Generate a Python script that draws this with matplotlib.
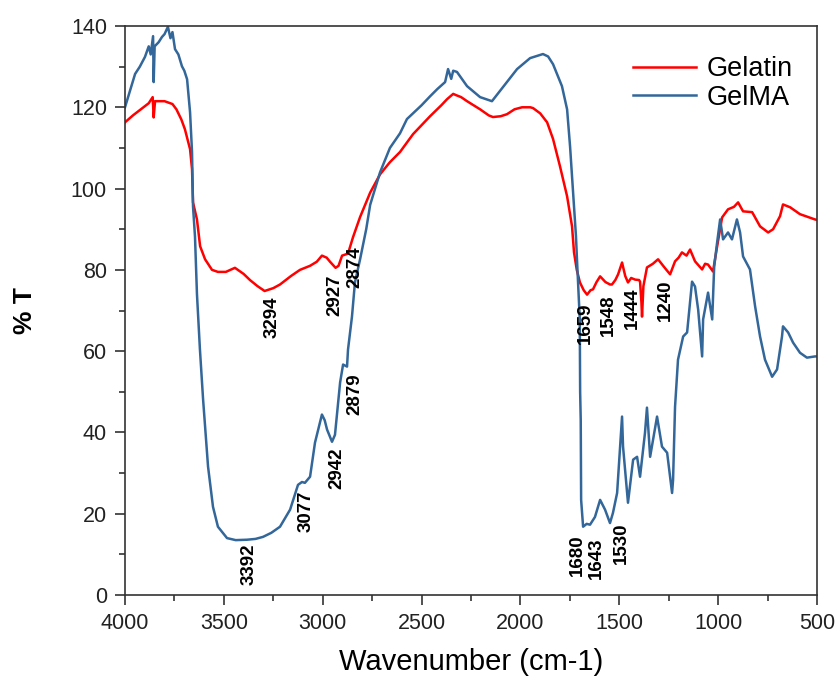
import matplotlib
matplotlib.use("Agg")
import matplotlib.pyplot as plt
from matplotlib.ticker import MultipleLocator

plt.rcParams['font.family'] = ['Liberation Sans', 'DejaVu Sans']

# Gelatin spectrum (wavenumber, %T)
gel_w = [4000, 3960, 3920, 3880, 3860, 3855, 3848, 3800, 3760, 3740, 3715, 3697,
         3671, 3661, 3656, 3636, 3620, 3595, 3560, 3530, 3490, 3444, 3400, 3368,
         3330, 3294, 3250, 3216, 3160, 3115, 3064, 3030, 3004, 2980, 2963, 2935,
         2920, 2902, 2872, 2847, 2811, 2760, 2710, 2660, 2609, 2543, 2457, 2400,
         2371, 2340, 2326, 2300, 2270, 2204, 2160, 2139, 2100, 2068, 2030, 1992,
         1950, 1936, 1900, 1865, 1835, 1800, 1764, 1739, 1729, 1715, 1699, 1680,
         1663, 1645, 1633, 1615, 1597, 1570, 1547, 1537, 1520, 1506, 1486, 1470,
         1456, 1440, 1420, 1400, 1395, 1388, 1385, 1378, 1360, 1330, 1304, 1270,
         1243, 1218, 1200, 1183, 1160, 1142, 1117, 1081, 1066, 1051, 1026, 1005,
         980, 950, 920, 899, 874, 828, 788, 747, 722, 687, 672, 636, 586, 510, 500]
gel_t = [116.3, 118, 119.5, 121, 122.5, 117.5, 121.5, 121.5, 120.8, 119.5, 117, 114.6,
         109.7, 104.8, 96.6, 92.4, 85.8, 82.6, 80, 79.5, 79.5, 80.5, 79, 77.5,
         76, 74.8, 75.5, 76.4, 78.5, 80, 81, 82, 83.5, 83, 82, 80.5,
         81, 83.5, 84, 88, 93, 99, 103.5, 106.5, 109, 113.4, 117.8, 120.5,
         122, 123.3, 123, 122.5, 121.5, 119.5, 118, 117.6, 117.8, 118.3, 119.5, 120,
         120, 119.8, 118.5, 116.3, 112.2, 105.5, 98.1, 90.7, 84.3, 80, 76.9, 75,
         73.9, 75, 75.2, 77, 78.4, 77, 76.4, 76.4, 77.5, 78.9, 81.8, 78.5,
         76.9, 78, 77.6, 77.5, 77.1, 72, 68.5, 76, 80.6, 81.5, 82.6, 80.5,
         78.9, 82.1, 83, 84.3, 83.5, 85, 82.1, 80.1, 81.5, 81.3, 79.6, 85.8,
         92.9, 94.9, 95.5, 96.6, 94.4, 94.2, 90.7, 89.2, 90, 93.2, 96.1, 95.4, 93.7, 92.4, 92.3]

# GelMA spectrum
gma_w = [4000, 3975, 3949, 3925, 3899, 3880, 3870, 3858, 3855, 3850, 3830, 3813,
         3800, 3783, 3770, 3760, 3747, 3730, 3712, 3700, 3686, 3671, 3661, 3656,
         3646, 3636, 3621, 3605, 3580, 3555, 3530, 3484, 3440, 3383, 3340, 3302,
         3260, 3216, 3165, 3125, 3105, 3090, 3064, 3039, 3004, 2990, 2978, 2953,
         2938, 2912, 2897, 2877, 2872, 2852, 2837, 2811, 2780, 2760, 2710, 2660,
         2609, 2574, 2500, 2457, 2420, 2381, 2366, 2350, 2340, 2321, 2270, 2204,
         2144, 2088, 2017, 1951, 1886, 1860, 1835, 1790, 1764, 1749, 1734, 1719,
         1714, 1700, 1698, 1695, 1693, 1683, 1665, 1648, 1623, 1597, 1572, 1547,
         1532, 1511, 1496, 1486, 1481, 1456, 1430, 1410, 1395, 1370, 1360, 1344,
         1309, 1284, 1258, 1233, 1228, 1218, 1203, 1177, 1157, 1132, 1117, 1101,
         1081, 1076, 1051, 1030, 1020, 1005, 990, 975, 950, 930, 905, 889,
         874, 839, 813, 788, 763, 727, 702, 677, 672, 646, 621, 586, 551, 510, 500]
gma_t = [120, 124, 128.2, 130, 132.4, 135, 133, 137.5, 126.2, 135, 136, 137.3,
         138, 139.8, 137, 138.5, 134.3, 133, 130.1, 129, 126.9, 118.8, 109, 95.6,
         88.2, 74, 60.4, 48.1, 31.6, 21.7, 16.8, 14, 13.5, 13.6, 13.8, 14.3,
         15.3, 16.8, 21, 27.1, 27.8, 27.6, 29.1, 37.5, 44.4, 43, 40.7, 37.7,
         39.4, 52.3, 56.7, 56.2, 60.4, 68.5, 76.9, 82.6, 90, 96, 104, 110,
         113.6, 117.1, 120.5, 122.7, 124.5, 126.2, 129.4, 127, 129, 128.7, 125.2, 122.5,
         121.5, 125, 129.4, 132.1, 133.1, 132.5, 130.6, 125.2, 119.5, 110.4, 99.1, 88.2,
         82.6, 68, 50, 43, 23.4, 16.8, 17.5, 17.3, 19.2, 23.4, 21, 17.7,
         20.2, 25.1, 36.5, 43.9, 36.5, 22.7, 33.3, 34, 29.1, 39.9, 46.1, 34,
         43.9, 36.5, 35, 25.1, 28.3, 46.3, 57.9, 63.6, 64.6, 77.1, 75.9, 70.2,
         58.7, 67.8, 74.4, 67.8, 80.8, 86.8, 92.4, 87.5, 89.2, 87.5, 92.4, 89.2,
         83.3, 80.1, 71, 63.6, 57.9, 53.7, 55.5, 63.6, 66.1, 64.6, 62.1, 59.6, 58.4, 58.7, 58.7]

# peak labels: text, wavenumber position, top of text (%T)
peak_labels = ['3294', '2927', '2874', '3392', '3077', '2942', '2879',
               '1659', '1548', '1444', '1240', '1680', '1643', '1530']
peak_x = [3256, 2938, 2837, 3373, 3085, 2928, 2837,
          1669, 1553, 1436, 1269, 1711, 1618, 1491]
peak_top = [73.4, 78.9, 85.8, 12.6, 25.6, 36.2, 54.5,
            71.9, 73.9, 75.6, 77.6, 15.0, 14.1, 17.9]

fig = plt.figure(figsize=(8.37, 6.82), dpi=100)
ax = fig.add_axes([125 / 837, 1 - 595 / 682, 692 / 837, 569 / 682])

ax.plot(gel_w, gel_t, color='#ff0000', lw=1.8, label='Gelatin')
ax.plot(gma_w, gma_t, color='#336699', lw=1.8, label='GelMA')

for lab, xw, yt in zip(peak_labels, peak_x, peak_top):
    ax.text(xw, yt, lab, rotation=90, ha='center', va='top',
            fontsize=13.5, fontweight='bold', color='black')

ax.set_xlim(4000, 500)
ax.set_ylim(0, 140)
ax.xaxis.set_major_locator(MultipleLocator(500))
ax.xaxis.set_minor_locator(MultipleLocator(250))
ax.yaxis.set_major_locator(MultipleLocator(20))
ax.yaxis.set_minor_locator(MultipleLocator(10))
ax.tick_params(which='both', direction='out', top=False, right=False,
               labelsize=15.5, colors='#222222')
ax.tick_params(which='major', length=7, width=1.1, pad=6)
ax.tick_params(which='minor', length=4.3, width=1.1)
for sp in ax.spines.values():
    sp.set_color('#333333')
    sp.set_linewidth(1.2)

ax.set_xlabel('Wavenumber (cm-1)', fontsize=21, labelpad=10)
ax.set_ylabel('% T', fontsize=19, fontweight='bold', labelpad=24)

ax.legend(loc='upper right', bbox_to_anchor=(1.0, 0.99), frameon=False,
          fontsize=19.5, handlelength=2.3, handletextpad=0.4, labelspacing=0.1)

fig.savefig('out.png', dpi=100)
